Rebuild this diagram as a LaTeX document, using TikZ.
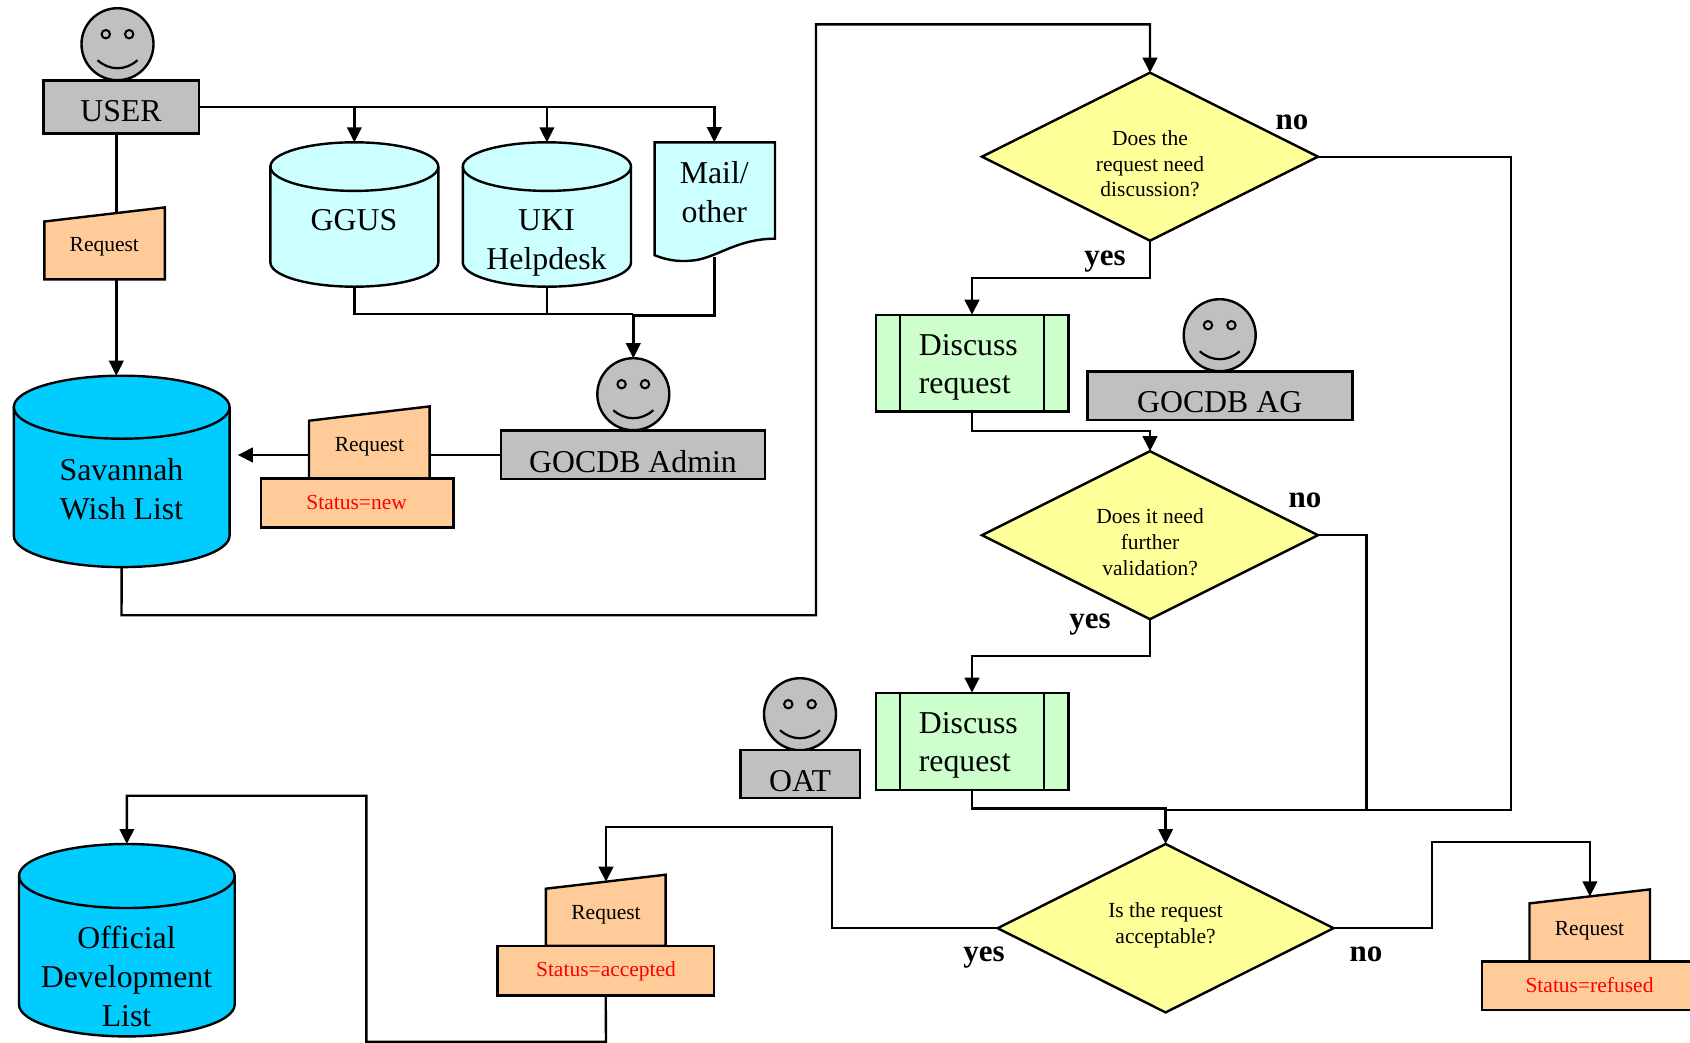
\documentclass[tikz,border=0pt]{standalone}
\usepackage{fontspec}
\setmainfont{Liberation Serif}
\usetikzlibrary{arrows.meta,shapes.geometric}
\definecolor{facegray}{HTML}{C0C0C0}
\definecolor{paleblue}{HTML}{CCFFFF}
\definecolor{deepblue}{HTML}{00CCFF}
\definecolor{peach}{HTML}{FFCC99}
\definecolor{palegreen}{HTML}{CCFFCC}
\definecolor{paleyellow}{HTML}{FFFF99}
\tikzset{
  outline/.style={draw=black,line width=2.4pt,line join=miter},
  boxshape/.style={rectangle,outline,inner sep=0pt,outer sep=0pt},
  ghost/.style={rectangle,inner sep=0pt,outer sep=0pt},
  headshape/.style={circle,outline,fill=facegray,minimum size=72pt,inner sep=0pt,outer sep=0pt},
  decision/.style={diamond,outline,fill=paleyellow,aspect=2,inner sep=0pt,outer sep=0pt},
  big/.style={align=center,font=\fontsize{31.8}{39}\selectfont,inner sep=0pt},
  bigleft/.style={align=left,font=\fontsize{31.8}{38}\selectfont,inner sep=0pt},
  small/.style={align=center,font=\fontsize{21.5}{25.7}\selectfont,inner sep=0pt},
  status/.style={small,text=red},
  answer/.style={font=\bfseries\fontsize{31}{36}\selectfont,inner sep=0pt},
  conn/.style={draw=black,line width=2.4pt,line join=miter},
  arr/.style={conn,-{Triangle[length=15pt,width=14.5pt]}}
}
% name, xl, xr, top, bottom, style
\newcommand{\boxat}[6]{%
  \pgfmathsetmacro\bw{#3-#2}\pgfmathsetmacro\bh{#5-#4}%
  \pgfmathsetmacro\bx{(#2+#3)/2}\pgfmathsetmacro\by{(#4+#5)/2}%
  \node[boxshape,#6,minimum width=\bw pt,minimum height=\bh pt] (#1) at (\bx,\by) {};}
% name, xl, xr, top, bottom, ry, colour
\newcommand{\cylat}[7]{%
  \pgfmathsetmacro\cxm{(#2+#3)/2}\pgfmathsetmacro\crx{(#3-#2)/2}%
  \pgfmathsetmacro\ckx{\crx*0.5523}\pgfmathsetmacro\cky{#6*0.5523}%
  \pgfmathsetmacro\cya{#4+#6}\pgfmathsetmacro\cyb{#5-#6}%
  \pgfmathsetmacro\cxa{\cxm-\ckx}\pgfmathsetmacro\cxb{\cxm+\ckx}%
  \pgfmathsetmacro\cua{\cya-\cky}\pgfmathsetmacro\cub{\cya+\cky}\pgfmathsetmacro\cuc{\cyb+\cky}%
  \draw[outline,fill=#7] (#2,\cya) .. controls (#2,\cua) and (\cxa,#4) .. (\cxm,#4)
     .. controls (\cxb,#4) and (#3,\cua) .. (#3,\cya) -- (#3,\cyb)
     .. controls (#3,\cuc) and (\cxb,#5) .. (\cxm,#5)
     .. controls (\cxa,#5) and (#2,\cuc) .. (#2,\cyb) -- cycle;
  \draw[outline] (#2,\cya) .. controls (#2,\cub) and (\cxa,\cya+#6) .. (\cxm,\cya+#6)
     .. controls (\cxb,\cya+#6) and (#3,\cub) .. (#3,\cya);
  \pgfmathsetmacro\bw{#3-#2}\pgfmathsetmacro\bh{#5-#4}\pgfmathsetmacro\by{(#4+#5)/2}%
  \node[ghost,minimum width=\bw pt,minimum height=\bh pt] (#1) at (\cxm,\by) {};}
% name, xl, xr, topleft, topright, bottom
\newcommand{\reqat}[6]{%
  \draw[outline,fill=peach] (#2,#4) -- (#3,#5) -- (#3,#6) -- (#2,#6) -- cycle;
  \pgfmathsetmacro\bw{#3-#2}\pgfmathsetmacro\bh{#6-#5}%
  \pgfmathsetmacro\bx{(#2+#3)/2}\pgfmathsetmacro\by{(#5+#6)/2}%
  \node[ghost,minimum width=\bw pt,minimum height=\bh pt] (#1) at (\bx,\by) {};}
% name, cx, cy
\newcommand{\faceat}[3]{%
  \node[headshape] (#1) at (#2,#3) {};
  \begin{scope}[shift={(#2,#3)}]
    \draw[line width=2pt,fill=facegray] (-11.7,-10) circle[radius=4.2pt];
    \draw[line width=2pt,fill=facegray] (11.7,-10) circle[radius=4.2pt];
    \draw[line width=2.2pt] (-20,16) .. controls (-8,26.7) and (8,26.7) .. (20,16);
  \end{scope}}
\begin{document}
\begin{tikzpicture}[x=1pt,y=-1pt]
\path[use as bounding box] (0,-0.7) rectangle (1690,1041.3);
\clip (0,-0.7) rectangle (1690,1041.3);

% --- left part
\faceat{userface}{117.5}{43.5}
\boxat{user}{43.4}{199}{79.6}{132.8}{fill=facegray}
\node[big] (userT) at (121,110) {USER};

\cylat{ggus}{270.4}{438.3}{141.6}{286}{24.3}{paleblue}
\node[big] (ggusT) at (354,219.5) {GGUS};
\cylat{uki}{462.8}{631}{141.6}{286}{24.3}{paleblue}
\node[big] (ukiT) at (546.5,242) {UKI\\Helpdesk};

\draw[outline,fill=paleblue] (654.6,141.6) -- (775,141.6) -- (775,238)
   .. controls (735,238) and (715,259) .. (690,260)
   .. controls (680,261) and (668,260) .. (654.6,254.5) -- cycle;
\node[ghost,minimum width=120.4pt,minimum height=119pt] (mail) at (714.3,201) {};
\node[big] (mailT) at (714.3,191.5) {Mail/\\other};

\reqat{reqA}{44.4}{164.8}{220.8}{206.7}{278.6}
\node[small] (reqAT) at (104.3,246.5) {Request};

\cylat{wish}{13.8}{229.6}{375}{566.4}{31.5}{deepblue}
\node[big] (wishT) at (121.5,489) {Savannah\\Wish List};

\faceat{adminface}{633.3}{393.5}
\boxat{admin}{501}{765}{429.8}{478.4}{fill=facegray}
\node[big] (adminT) at (633,460.5) {GOCDB Admin};

\reqat{reqB}{309}{429.6}{420}{405.7}{477.6}
\node[small] (reqBT) at (369.4,446.5) {Request};
\boxat{statB}{261}{453.6}{477.6}{526.6}{fill=peach}
\node[status] (statBT) at (356.6,502) {Status=new};

% --- right part
\node[decision,minimum width=336pt,minimum height=168pt] (d1) at (1150,156) {};
\node[small] (d1T) at (1150,163) {Does the\\request need\\discussion?};
\node[answer] (d1no) at (1292,121.5) {no};
\node[answer] (d1yes) at (1105,260.5) {yes};

\boxat{disA}{875.7}{1068.3}{314}{410.7}{fill=palegreen}
\draw[outline] (900,314) -- (900,410.7) (1044,314) -- (1044,410.7);
\node[bigleft] (disAT) at (968.3,366.5) {Discuss\\request};

\faceat{agface}{1219.7}{334.5}
\boxat{ag}{1087.3}{1352.6}{370.7}{419}{fill=facegray}
\node[big] (agT) at (1219.7,401) {GOCDB AG};

\node[decision,minimum width=336pt,minimum height=168pt] (d2) at (1150,534.5) {};
\node[small] (d2T) at (1150,541.5) {Does it need\\further\\validation?};
\node[answer] (d2no) at (1305,499.5) {no};
\node[answer] (d2yes) at (1090,624) {yes};

\boxat{disB}{875.7}{1068.3}{692}{789}{fill=palegreen}
\draw[outline] (900,692) -- (900,789) (1044,692) -- (1044,789);
\node[bigleft] (disBT) at (968.3,744.5) {Discuss\\request};

\faceat{oatface}{800}{713.5}
\boxat{oat}{740.4}{860}{749}{797.5}{fill=facegray}
\node[big] (oatT) at (800,780.8) {OAT};

\node[decision,minimum width=336pt,minimum height=168.4pt] (d3) at (1165.6,927.5) {};
\node[small] (d3T) at (1165.6,924.5) {Is the request\\acceptable?};
\node[answer] (d3yes) at (984,957) {yes};
\node[answer] (d3no) at (1366,953.5) {no};

\reqat{reqC}{545.8}{665.6}{888}{874}{945}
\node[small] (reqCT) at (606,914.5) {Request};
\boxat{statC}{497.6}{713.8}{945}{994.7}{fill=peach}
\node[status] (statCT) at (606,971) {Status=accepted};

\reqat{reqD}{1529.5}{1650}{902.7}{888.7}{960.7}
\node[small] (reqDT) at (1589.5,930) {Request};
\boxat{statD}{1482}{1698}{960.7}{1009}{fill=peach}
\node[status] (statDT) at (1589.5,984.5) {Status=refused};

\cylat{official}{19}{234.7}{843.3}{1035.7}{32}{deepblue}
\node[big] (officialT) at (126.5,976) {Official\\Development\\List};

% --- connector ends
\coordinate (reqAin) at (116.3,212.9);
\coordinate (reqBr) at (429.6,454.3);
\coordinate (reqBl) at (309,454.3);
\coordinate (wishr) at (237.8,454.3);
\coordinate (adminl) at (501,454.3);
\coordinate (mailout) at (714.3,256);
\coordinate (mrg) at (633.3,313);
\coordinate (mrgm) at (633.3,314.6);
\coordinate (reqCin) at (606,881);
\coordinate (reqDin) at (1589.9,895.7);
\coordinate (merge) at (1165.6,809.3);

% --- connectors
\draw[arr] (user.east) -| (mail.north);
\draw[arr] (ggus.north |- user.east) -- (ggus.north);
\draw[arr] (uki.north |- user.east) -- (uki.north);
\draw[conn] (user.south -| reqAin) -- (reqAin);
\draw[arr] (reqA.south -| reqAin) -- (wish.north -| reqAin);
\draw[conn] (ggus.south) |- (mrg);
\draw[conn] (uki.south) -- (uki.south |- mrg);
\draw[conn] (mailout) |- (mrgm);
\draw[arr] (mrg) -- (adminface.north);
\draw[conn] (adminl) -- (reqBr);
\draw[arr] (reqBl) -- (wishr);
\draw[arr] (wish.south) -- (121.5,614.5) -- (816,614.5) -- (816,23.7) -| (d1.north);
\draw[arr] (d1.south) -- (1150,277) -| (disA.north);
\draw[conn] (d1.east) -| (1511,809.3) -- (merge);
\draw[arr] (disA.south) -- (972,430.3) -| (d2.north);
\draw[arr] (d2.south) -- (1150,655.3) -| (disB.north);
\draw[conn] (d2.east) -| (1366.5,809.3);
\draw[conn] (disB.south) -- (972,807.8) -| (merge);
\draw[arr] (merge) -- (d3.north);
\draw[arr] (d3.west) -- (832,927.5) -- (832,826) -| (reqCin);
\draw[arr] (d3.east) -- (1431.7,927.5) -- (1431.7,841) -| (reqDin);
\draw[arr] (statC.south) -- (606,1041) -- (366.4,1041) -- (366.4,795) -| (official.north);
\end{tikzpicture}
\end{document}
